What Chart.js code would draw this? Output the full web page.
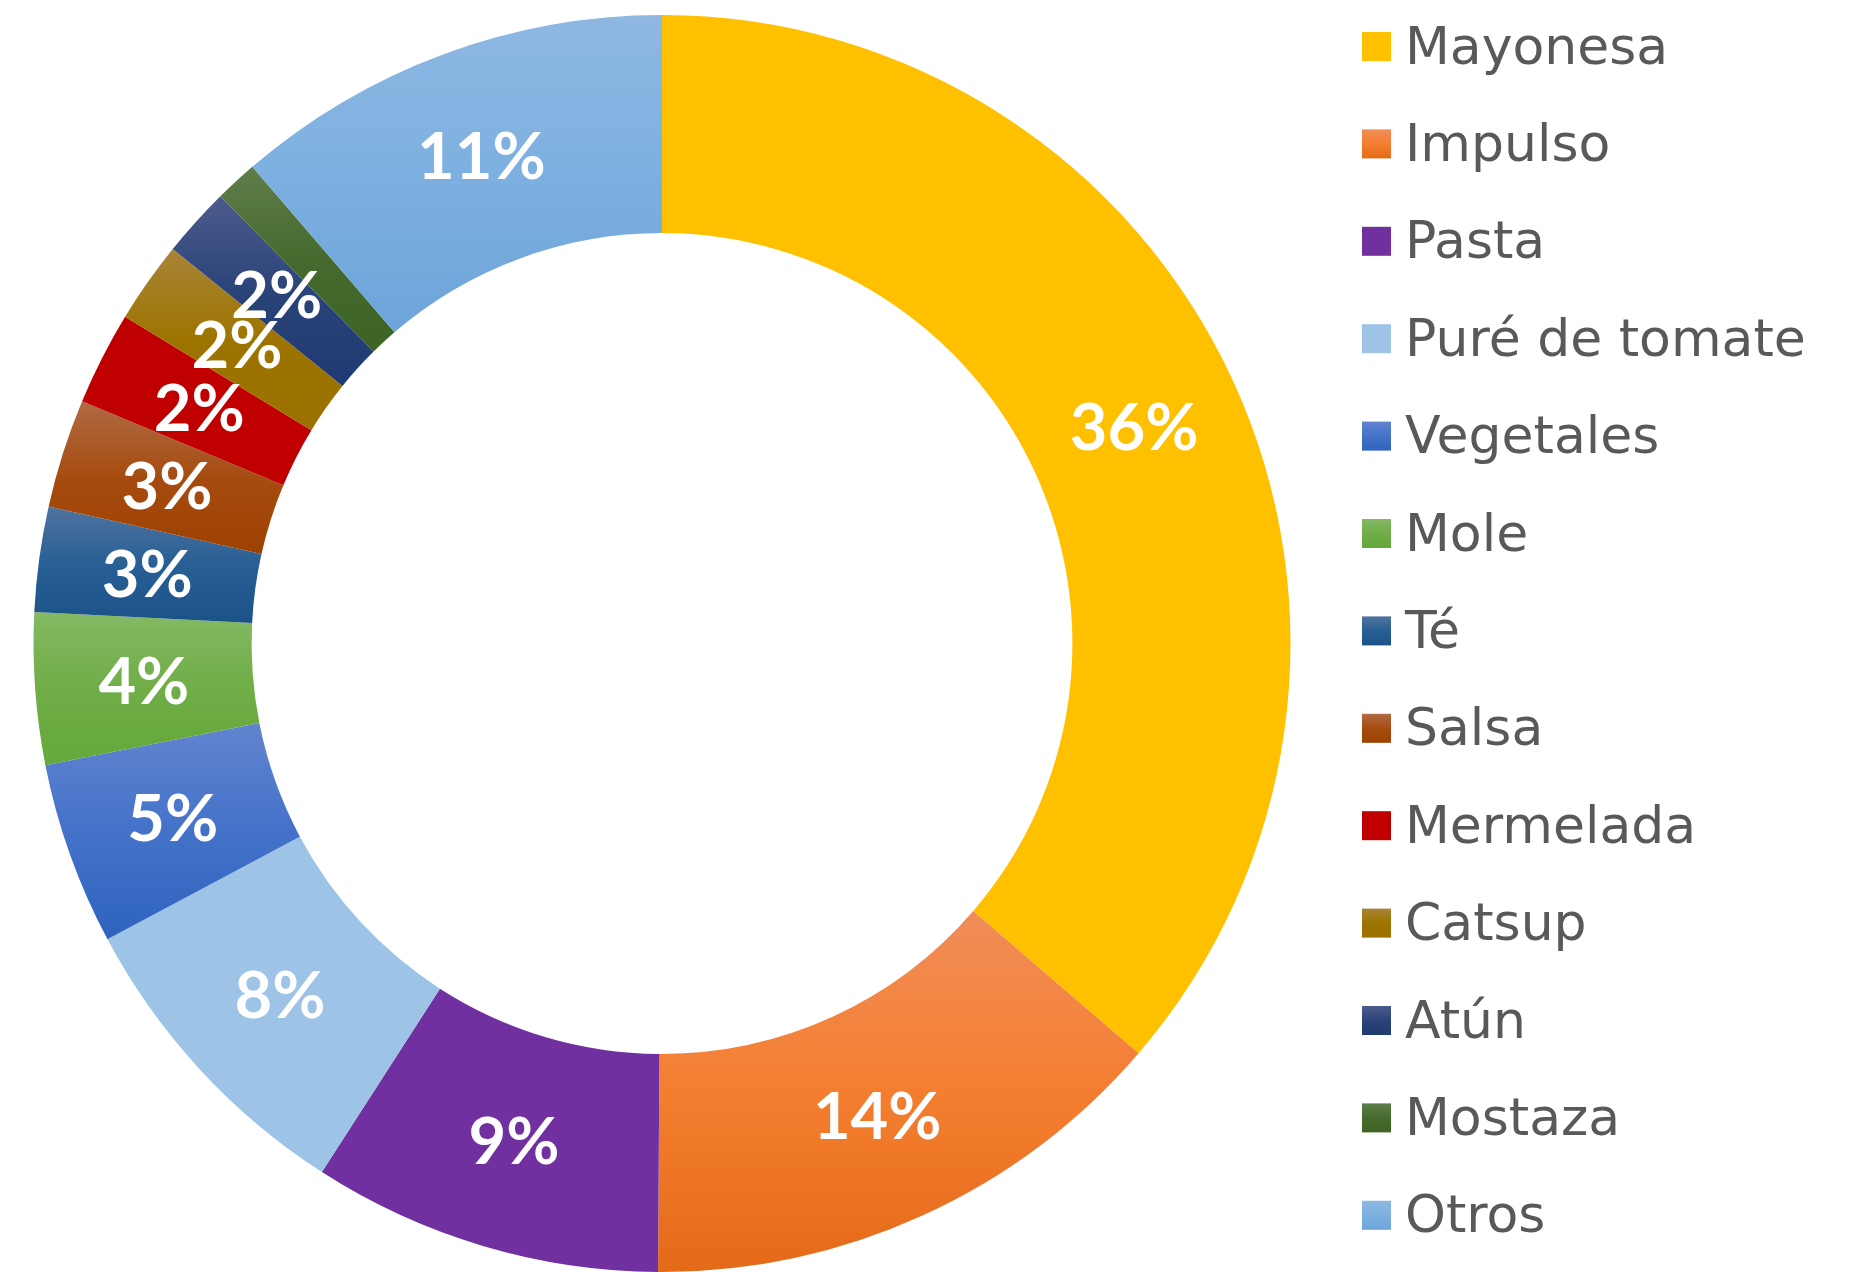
<!DOCTYPE html>
<html>
<head>
<meta charset="utf-8">
<script src="https://cdn.jsdelivr.net/npm/chart.js@4.4.1/dist/chart.umd.min.js"></script>
<style>
    html, body { margin: 0; padding: 0; background: #fff; }
    #wrap { width: 1858px; height: 1272px; }
</style>
</head>
<body>
<div id="wrap"><canvas id="donut"></canvas></div>
<script>
const categories = ['Mayonesa', 'Impulso', 'Pasta', 'Puré de tomate', 'Vegetales', 'Mole', 'Té', 'Salsa',
    'Mermelada', 'Catsup', 'Atún', 'Mostaza', 'Otros']
const shares = [36.3, 13.8, 9.0, 8.1, 4.7, 3.9, 2.7, 2.8, 2.4, 2.1, 1.8, 1.1, 11.3]
const unlabeled = ['Mostaza']

// each slice is filled with a top -> bottom gradient (flat ones repeat the colour)
const colorsTop = ['#FFC000', '#F18D57', '#7030A0', '#9DC3E6', '#6284CF', '#84B964', '#50739F', '#B06A44',
    '#C00000', '#A88438', '#4D5B8E', '#5E7E4A', '#8EB8E2']
const colorsMid = ['#FFC000', '#F47E30', '#7030A0', '#9DC3E6', '#4472C9', '#70AD47', '#285F94', '#A64C10',
    '#C00000', '#9E7400', '#2A4479', '#466A2E', '#7DB0E0']
const colorsBottom = ['#FFC000', '#E46A18', '#7030A0', '#9DC3E6', '#2E63BE', '#64A83A', '#1B5289', '#9E4100',
    '#C00000', '#9A7000', '#1F3A72', '#3C6423', '#6DA4D9']

const CUTOUT = 0.653
const total = shares.reduce((a, b) => a + b, 0)

const makeGradient = (ctx, i, y0, y1) => {
    const g = ctx.createLinearGradient(0, y0, 0, y1)
    g.addColorStop(0, colorsTop[i])
    g.addColorStop(0.5, colorsMid[i])
    g.addColorStop(1, colorsBottom[i])
    return g
}

const sliceFill = (context) => {
    const chart = context.chart
    const area = chart.chartArea
    const i = context.dataIndex
    if (!area || i === undefined) return colorsMid[0]
    const before = shares.slice(0, i).reduce((a, b) => a + b, 0)
    const a0 = -Math.PI / 2 + 2 * Math.PI * before / total
    const a1 = a0 + 2 * Math.PI * shares[i] / total
    const cy = (area.top + area.bottom) / 2
    const R = Math.min(area.width, area.height) / 2
    const r = R * CUTOUT
    let ys = [a0, a1].flatMap(a => [cy + R * Math.sin(a), cy + r * Math.sin(a)])
    if (a0 <= Math.PI / 2 && a1 >= Math.PI / 2) ys.push(cy + R)
    if (a1 >= 3 * Math.PI / 2) ys.push(cy - R)
    return makeGradient(chart.ctx, i, Math.min(...ys), Math.max(...ys))
}

const sliceLabels = {
    id: 'sliceLabels',
    afterDatasetsDraw(chart) {
        const ctx = chart.ctx
        ctx.save()
        ctx.font = 'bold 65px Lato'
        ctx.fillStyle = '#ffffff'
        ctx.textAlign = 'center'
        ctx.textBaseline = 'middle'
        chart.getDatasetMeta(0).data.forEach((arc, i) => {
            if (unlabeled.includes(categories[i])) return
            const {x, y} = arc.getCenterPoint()
            ctx.fillText(`${Math.round(shares[i] / total * 100)}%`, x, y + 2)
        })
        ctx.restore()
    }
}

const sideLegend = {
    id: 'sideLegend',
    afterDraw(chart) {
        const ctx = chart.ctx
        const boxX = chart.chartArea.right + 38
        const box = 29
        const step = 97.4
        ctx.save()
        ctx.font = '52px "DejaVu Sans"'
        ctx.textBaseline = 'alphabetic'
        categories.forEach((name, i) => {
            const cy = 46.5 + i * step
            ctx.fillStyle = makeGradient(ctx, i, cy - box / 2, cy + box / 2)
            ctx.fillRect(boxX, cy - box / 2, box, box)
            ctx.fillStyle = '#595959'
            ctx.fillText(name, boxX + 43, cy + 17)
        })
        ctx.restore()
    }
}

new Chart(document.getElementById('donut'), {
    type: 'doughnut',
    data: {
        labels: categories,
        datasets: [{
            data: shares,
            backgroundColor: sliceFill,
            borderWidth: 0
        }]
    },
    options: {
        responsive: true,
        maintainAspectRatio: false,
        animation: false,
        cutout: `${CUTOUT * 100}%`,
        layout: { padding: { top: 15, right: 534, bottom: 0, left: 0 } },
        plugins: {
            legend: { display: false },
            tooltip: { enabled: false }
        }
    },
    plugins: [sliceLabels, sideLegend]
})
</script>
</body>
</html>
